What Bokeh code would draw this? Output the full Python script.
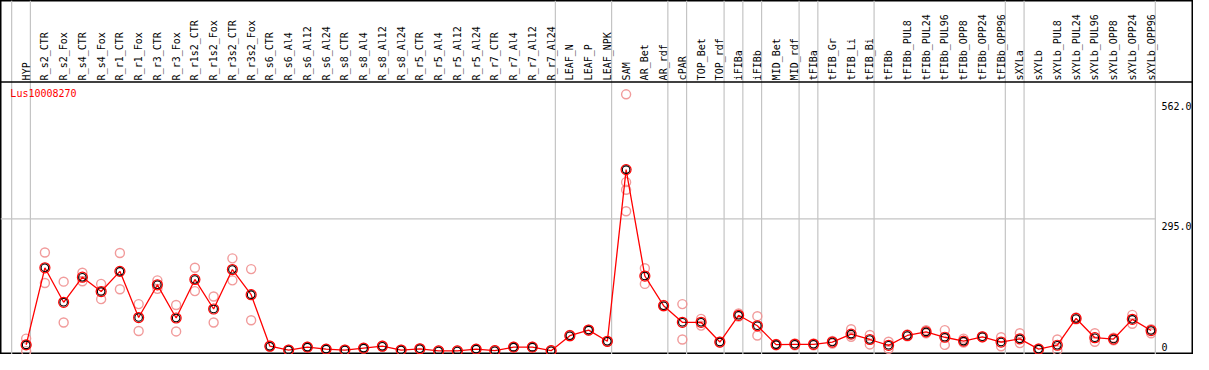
from bokeh.plotting import figure
from bokeh.models import Range1d, Span, ColumnDataSource
from bokeh.core.properties import value
from bokeh.embed import file_html
from bokeh.resources import INLINE

# ---------------- data ----------------
gene_id = "Lus10008270"

categories = [
    "HYP", "R_s2_CTR", "R_s2_Fox", "R_s4_CTR", "R_s4_Fox", "R_r1_CTR", "R_r1_Fox",
    "R_r3_CTR", "R_r3_Fox", "R_r1s2_CTR", "R_r1s2_Fox", "R_r3s2_CTR", "R_r3s2_Fox",
    "R_s6_CTR", "R_s6_Al4", "R_s6_Al12", "R_s6_Al24", "R_s8_CTR", "R_s8_Al4",
    "R_s8_Al12", "R_s8_Al24", "R_r5_CTR", "R_r5_Al4", "R_r5_Al12", "R_r5_Al24",
    "R_r7_CTR", "R_r7_Al4", "R_r7_Al12", "R_r7_Al24", "LEAF_N", "LEAF_P", "LEAF_NPK",
    "SAM", "AR_Bet", "AR_rdf", "cPAR", "TOP_Bet", "TOP_rdf", "iFIBa", "iFIBb",
    "MID_Bet", "MID_rdf", "tFIBa", "tFIB_Gr", "tFIB_Li", "tFIB_Bi", "tFIBb",
    "tFIBb_PUL8", "tFIBb_PUL24", "tFIBb_PUL96", "tFIBb_OPP8", "tFIBb_OPP24",
    "tFIBb_OPP96", "sXYLa", "sXYLb", "sXYLb_PUL8", "sXYLb_PUL24", "sXYLb_PUL96",
    "sXYLb_OPP8", "sXYLb_OPP24", "sXYLb_OPP96",
]

means = [
    14, 186, 109, 165, 133, 178, 75, 148, 74, 160, 94, 182, 126,
    11, 2.5, 9, 4.6, 2.5, 6.8, 11, 2.5, 5.3, 0.5, 0.5, 4.6, 1, 8.9, 8.9, 1,
    34.5, 47, 22, 405, 167.6, 101.4, 64.4, 64.4, 20.3, 80, 56.6,
    14.6, 15.3, 15.3, 20.3, 38, 26, 13, 35, 43, 31, 22.4, 32, 20.3,
    27.4, 4.6, 13.2, 73, 30, 27, 71, 46,
]

replicates = [
    [28, 14, 0], [220, 152], [155, 64], [175, 156], [150, 116], [219, 138],
    [105, 45], [158, 139], [103, 44], [186, 134], [122, 64], [207, 158],
    [183, 69], [12, 10], [3, 2], [10, 8], [5, 4], [3, 2], [7, 6], [12, 10],
    [3, 2], [6, 5], [1, 0], [1, 0], [5, 4], [2, 0], [10, 8], [10, 8], [2, 0],
    [36, 33], [48, 46], [23, 21], [573, 377, 360, 312], [185, 150], [103, 100],
    [105, 26], [72, 57], [21, 19], [84, 77], [78, 35], [16, 13], [17, 13],
    [17, 13], [23, 17], [49, 32], [36, 15], [21, 5], [37, 33], [47, 40],
    [47, 14], [28, 19], [33, 31], [31, 11], [40, 18], [6, 3], [26, 2],
    [75, 71], [40, 21], [30, 24], [81, 61], [49, 40],
]

# group separators: drawn just after these category indices
separators_after = [-1, 0, 28, 31, 34, 35, 37, 38, 39, 41, 42, 45, 52, 53, 60]

tick_values = [562.0, 295.0, 0.0]
tick_labels = ["562.0", "295.0", "0"]
grid_values = [295.0]

# ---------------- layout (reference pixel geometry) ----------------
REF_W, REF_H = 1209, 370
PX0, STEP = 26.0, 19.0          # x pixel of first category, spacing
ZERO_PY, PPU = 366.5, 0.4685     # y pixel of value 0, pixels per unit
HEADER_PY = 85.3
LABEL_PY = 83.5


def vx(px):
    return (px - PX0) / STEP


def vy(py):
    return (ZERO_PY - py) / PPU


W, H = 1193, 354
p = figure(width=W, height=H, output_backend="svg", toolbar_location=None,
           x_range=Range1d(vx(0), vx(REF_W)), y_range=Range1d(vy(REF_H), vy(0)),
           x_axis_location=None, y_axis_location=None, min_border=0)
p.grid.visible = False
p.outline_line_color = "black"
p.outline_line_width = 2
p.background_fill_color = "white"
p.border_fill_color = "white"

MONO = value("DejaVu Sans Mono")
xs = list(range(len(categories)))

# separators
sep_x = [k + 4.3 / STEP for k in separators_after]
p.segment(x0=sep_x, y0=[vy(REF_H)] * len(sep_x), x1=sep_x, y1=[vy(0)] * len(sep_x),
          line_color="#c4c4c4", line_width=1.2)

# grid line(s)
right_edge = len(categories) - 1 + 4.3 / STEP
p.segment(x0=[vx(0)] * len(grid_values), y0=grid_values,
          x1=[right_edge] * len(grid_values), y1=grid_values,
          line_color="#c4c4c4", line_width=1.2)

# header divider
p.add_layout(Span(location=vy(HEADER_PY), dimension="width",
                  line_color="black", line_width=1.5))

# header labels
p.text(x=xs, y=[vy(LABEL_PY)] * len(xs), text=categories, angle=1.5707963,
       text_align="left", text_baseline="middle", text_font=MONO,
       text_font_size="10px", text_color="black")

# gene id
p.text(x=[vx(10)], y=[vy(91.5)], text=[gene_id], text_align="left",
       text_baseline="top", text_font=MONO, text_font_size="10px", text_color="red")

# value labels
tick_offsets = [7.0, 7.0, -4.0]
src_t = ColumnDataSource(dict(x=[vx(1176.5)] * 3, y=tick_values, t=tick_labels,
                              yo=tick_offsets))
p.text(x="x", y="y", text="t", y_offset="yo", source=src_t, text_align="left",
       text_baseline="alphabetic", text_font=MONO, text_font_size="10px",
       text_color="black")

# replicate points
rx, ry = [], []
for i, reps in enumerate(replicates):
    for r in reps:
        rx.append(i)
        ry.append(r)
p.scatter(rx, ry, marker="circle", size=9, fill_color=None,
          line_color="#f09090", line_width=1.4, line_alpha=0.9)

# mean line + markers
p.line(xs, means, line_color="red", line_width=1.3)
p.scatter(xs, means, marker="circle", size=10, fill_color=None,
          line_color="red", line_width=1.2)
p.scatter(xs, means, marker="circle", size=7.5, fill_color=None,
          line_color="black", line_width=1.1)

open("out.html", "w").write(file_html(p, INLINE))
